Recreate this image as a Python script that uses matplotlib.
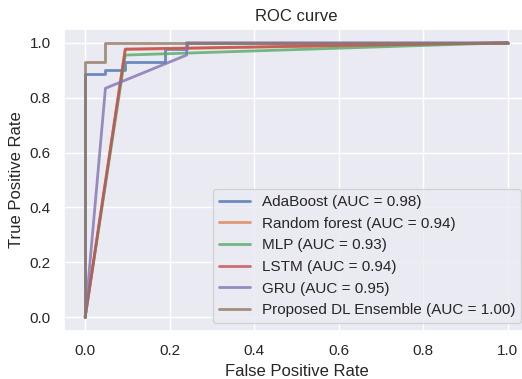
import matplotlib
matplotlib.use("Agg")
import matplotlib.pyplot as plt
import seaborn as sns

sns.set_theme()
plt.rcParams['font.family'] = ['Liberation Sans', 'DejaVu Sans']

names = ["AdaBoost", "Random forest", "MLP", "LSTM", "GRU", "Proposed DL Ensemble"]
aucs = [0.98, 0.94, 0.93, 0.94, 0.95, 1.00]

fpr_ada = [0.0, 0.0, 0.048, 0.048, 0.095, 0.095, 0.19, 0.19, 0.24, 0.24, 1.0]
tpr_ada = [0.0, 0.885, 0.885, 0.90, 0.90, 0.928, 0.928, 0.977, 0.977, 1.0, 1.0]

fpr_rf = [0.0, 0.095, 1.0]
tpr_rf = [0.0, 0.975, 1.0]

fpr_mlp = [0.0, 0.095, 1.0]
tpr_mlp = [0.0, 0.955, 1.0]

fpr_lstm = [0.0, 0.095, 1.0]
tpr_lstm = [0.0, 0.977, 1.0]

fpr_gru = [0.0, 0.048, 0.24, 0.24, 1.0]
tpr_gru = [0.0, 0.834, 0.955, 1.0, 1.0]

fpr_ens = [0.0, 0.0, 0.048, 0.048, 1.0]
tpr_ens = [0.0, 0.928, 0.928, 1.0, 1.0]

fprs = [fpr_ada, fpr_rf, fpr_mlp, fpr_lstm, fpr_gru, fpr_ens]
tprs = [tpr_ada, tpr_rf, tpr_mlp, tpr_lstm, tpr_gru, tpr_ens]

fig = plt.figure(figsize=(5.22, 3.79), dpi=100)
ax = fig.add_axes([64/522, 48/379, 465/522, 302/379])
for f, t, n, a in zip(fprs, tprs, names, aucs):
    ax.plot(f, t, alpha=0.8, lw=2, label=f"{n} (AUC = {a:.2f})")
ax.set_title("ROC curve")
ax.set_xlabel("False Positive Rate")
ax.set_ylabel("True Positive Rate")
ax.legend(loc="lower right")
fig.savefig("out.png", dpi=100)
